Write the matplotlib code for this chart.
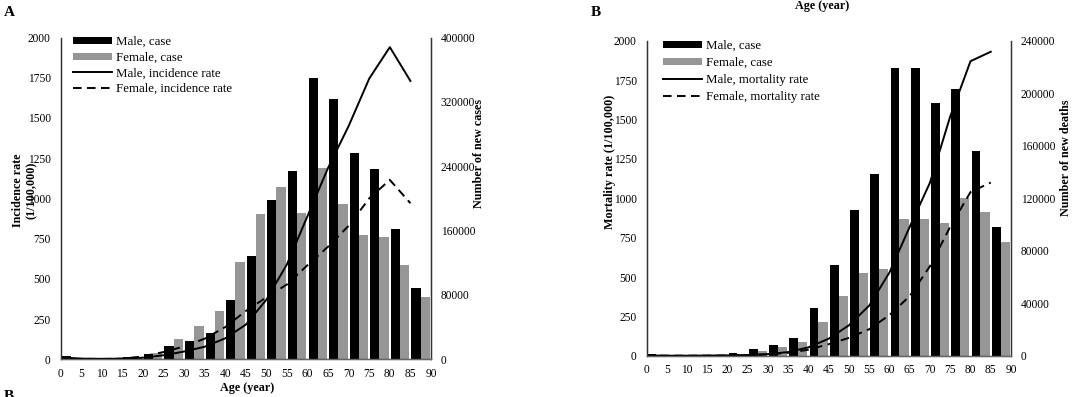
import matplotlib
matplotlib.use('Agg')
import matplotlib.pyplot as plt
from matplotlib.patches import Patch
from matplotlib.lines import Line2D
import numpy as np

# age groups (start of each 5-year band)
ages = [0, 5, 10, 15, 20, 25, 30, 35, 40, 45, 50, 55, 60, 65, 70, 75, 80, 85]

# panel A: incidence
male_cases = [4500, 2000, 1500, 2500, 7000, 16600, 22700, 33100, 73700, 128300,
              197700, 234200, 349400, 323700, 256200, 237100, 161500, 88200]
female_cases = [1000, 800, 800, 2000, 8300, 25500, 41400, 60000, 121000, 180100,
                214300, 181300, 237500, 192900, 154400, 151900, 117100, 77900]
male_incidence = [12, 4, 3, 4, 10, 25, 48, 78, 130, 215,
                  370, 590, 890, 1190, 1450, 1745, 1940, 1730]
female_incidence = [6, 3, 2, 4, 18, 45, 80, 128, 200, 300,
                    385, 465, 585, 700, 830, 1000, 1115, 970]

# panel B: mortality
male_deaths = [1200, 800, 600, 800, 2500, 5300, 8100, 13400, 36300, 69100,
               111200, 138700, 219200, 219200, 192500, 203400, 155700, 98500]
female_deaths = [800, 500, 400, 500, 1500, 4000, 6900, 10900, 26100, 45900,
                 63000, 66300, 104600, 104600, 100900, 120200, 109500, 87100]
male_mortality = [4, 2, 2, 3, 4, 6, 12, 25, 55, 110,
                  195, 320, 530, 820, 1100, 1520, 1870, 1930]
female_mortality = [3, 2, 2, 2, 3, 5, 10, 20, 40, 75,
                    115, 170, 260, 380, 570, 820, 1040, 1100]

W, H = 1080, 397
SERIF = ['Liberation Serif', 'DejaVu Serif']
GREY = '#969696'
DASH = (0, (4.4, 2.8))

plt.rcParams['font.family'] = SERIF


def px_axes(fig, left, right, top, bottom):
    return fig.add_axes([left / W, 1 - bottom / H, (right - left) / W, (bottom - top) / H])


def fig_text(fig, x, y, s, **kw):
    fig.text(x / W, 1 - y / H, s, ha='center', va='center', **kw)


def draw_panel(fig, box, male_bar, female_bar, male_line, female_line,
               right_max, right_step, line_name, legend_x, legend_y, spacing):
    ax = px_axes(fig, *box)
    ax2 = ax.twinx()
    ax.set_zorder(ax2.get_zorder() + 1)
    ax.patch.set_visible(False)

    x = np.array(ages)
    ax2.bar(x + 1.35, male_bar, width=2.2, color='black', align='center')
    ax2.bar(x + 3.6, female_bar, width=2.3, color=GREY, align='center')

    ax.plot(ages, male_line, color='black', lw=1.4)
    ax.plot(ages, female_line, color='black', lw=1.4, linestyle=DASH)

    ax.set_xlim(0, 90)
    ax.set_xticks(range(0, 95, 5))
    ax.set_ylim(0, 2000)
    ax.set_yticks(range(0, 2001, 250))
    ax2.set_ylim(0, right_max)
    ax2.set_yticks(range(0, right_max + 1, right_step))

    for a in (ax, ax2):
        a.spines['top'].set_visible(False)
        for s in ('left', 'right', 'bottom'):
            a.spines[s].set_linewidth(0.9)
            a.spines[s].set_color('#333333')
    ax.spines['bottom'].set_color('#666666')
    ax.tick_params(axis='x', length=0, pad=6, labelsize=8.3)
    ax.tick_params(axis='y', length=0, pad=7, labelsize=8.3)
    ax2.tick_params(axis='y', length=0, pad=7, labelsize=8.3)

    handles = [
        Patch(facecolor='black', edgecolor='none'),
        Patch(facecolor=GREY, edgecolor='none'),
        Line2D([], [], color='black', lw=1.4),
        Line2D([], [], color='black', lw=1.4, linestyle=DASH),
    ]
    labels = ['Male, case', 'Female, case',
              'Male, ' + line_name, 'Female, ' + line_name]
    ax.legend(handles, labels, loc='upper left', bbox_to_anchor=(legend_x, legend_y),
              frameon=False, fontsize=9.3, handlelength=3.0, handleheight=0.5,
              handletextpad=0.35, labelspacing=spacing, borderpad=0, borderaxespad=0)
    return ax, ax2


def main():
    fig = plt.figure(figsize=(W / 100, H / 100), dpi=100)

    draw_panel(fig, (60.5, 431, 37.5, 359.3), male_cases, female_cases,
               male_incidence, female_incidence, 400000, 80000,
               'incidence rate', 0.034, 1.004, 0.28)
    draw_panel(fig, (646.5, 1011, 40.7, 356), male_deaths, female_deaths,
               male_mortality, female_mortality, 240000, 40000,
               'mortality rate', 0.045, 1.002, 0.38)

    bold = dict(fontweight='bold', fontsize=8.7)
    fig_text(fig, 24.5, 190, 'Incidence rate\n(1/100,000)', rotation=90,
             linespacing=1.2, **bold)
    fig_text(fig, 479, 153, 'Number of new cases', rotation=90, **bold)
    fig_text(fig, 247, 388, 'Age (year)', **bold)
    fig_text(fig, 610, 162, 'Mortality rate (1/100,000)', rotation=90, **bold)
    fig_text(fig, 1066, 158, 'Number of new deaths', rotation=90, **bold)
    fig_text(fig, 822, 6, 'Age (year)', **bold)

    fig.text(4 / W, 1 - 13 / H, 'A', ha='left', va='center', fontweight='bold', fontsize=11)
    fig.text(591 / W, 1 - 13 / H, 'B', ha='left', va='center', fontweight='bold', fontsize=11)
    fig.text(4 / W, 1 - 396 / H, 'B', ha='left', va='center', fontweight='bold', fontsize=11)

    fig.savefig('out.png', dpi=100)


if __name__ == '__main__':
    main()
